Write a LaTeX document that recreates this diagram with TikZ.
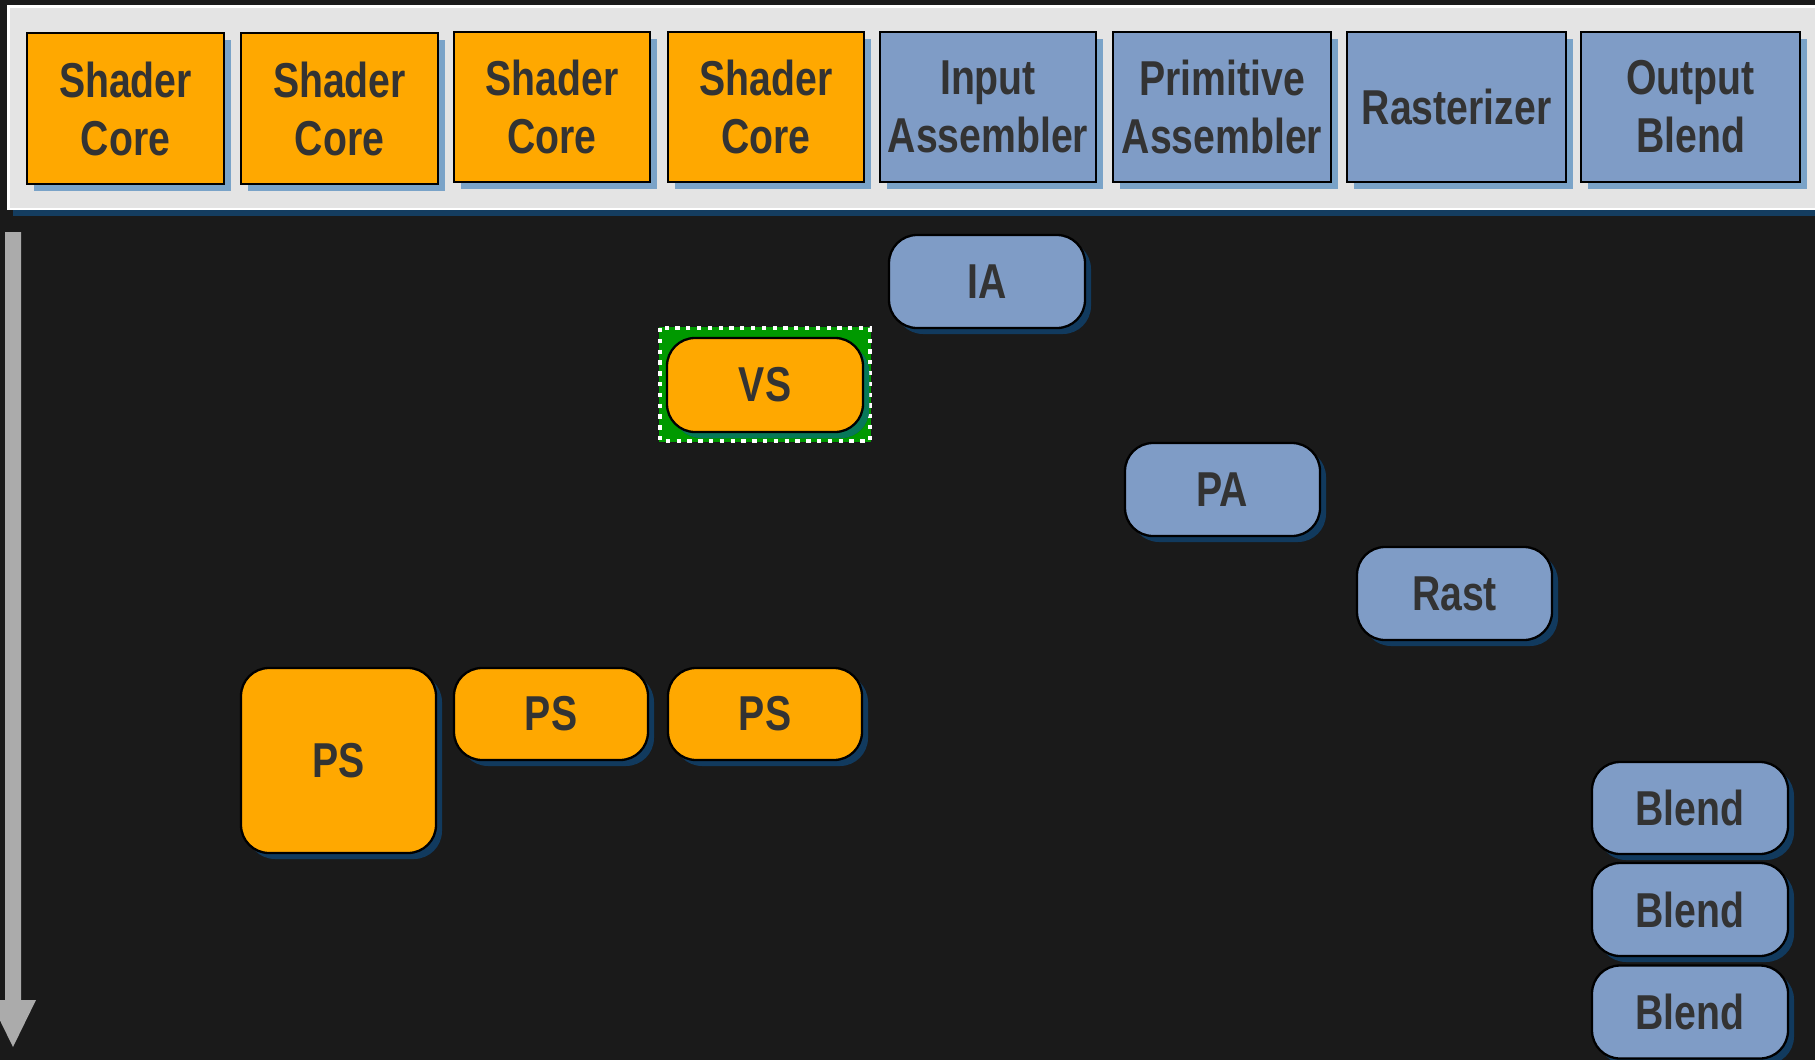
\documentclass[tikz,border=0pt]{standalone}
\usepackage{fontspec}
\setmainfont{Liberation Sans}[FakeStretch=0.8]
\usetikzlibrary{shadows}
\definecolor{bgdark}{HTML}{1A1A1A}
\definecolor{panelgray}{HTML}{E4E4E4}
\definecolor{panelshade}{HTML}{143D60}
\definecolor{coreorange}{HTML}{FFA800}
\definecolor{stageblue}{HTML}{7F9CC6}
\definecolor{lightshade}{HTML}{7AA3C8}
\definecolor{darkshade}{HTML}{113A5E}
\definecolor{labelgray}{HTML}{333333}
\definecolor{activegreen}{HTML}{009900}
\definecolor{greenshade}{HTML}{077858}
\definecolor{timegray}{HTML}{ABABAB}
\tikzset{
  lbl/.style={font=\bfseries\fontsize{49}{58}\selectfont, text=labelgray, align=center, inner sep=0pt},
  unitbox/.style={lbl, draw=black, line width=2pt, rectangle,
    drop shadow={shadow xshift=7pt, shadow yshift=-7pt, fill=lightshade, opacity=1}},
  corebox/.style={unitbox, fill=coreorange},
  stagebox/.style={unitbox, fill=stageblue},
  taskbox/.style={lbl, draw=black, line width=2.3pt, rounded corners=28pt,
    drop shadow={shadow xshift=6pt, shadow yshift=-6pt, fill=darkshade, opacity=1}},
  shadertask/.style={taskbox, fill=coreorange},
  fixedtask/.style={taskbox, fill=stageblue},
}
\begin{document}
\begin{tikzpicture}[x=1pt, y=-1pt]
  % canvas
  \useasboundingbox (0,0) rectangle (1815,1060);
  \fill[bgdark] (0,0) rectangle (1815,1060);

  % hardware unit panel
  \fill[panelshade] (13,11) rectangle (1830,216);
  \fill[white] (7,5) rectangle (1830,210);
  \fill[panelgray] (9.5,7.5) rectangle (1830,207.5);

  % hardware units
  \node[corebox, minimum width=197pt, minimum height=151pt] (sc1) at (125.5,108.5) {Shader\\Core};
  \node[corebox, minimum width=197pt, minimum height=151pt] (sc2) at (339.5,108.5) {Shader\\Core};
  \node[corebox, minimum width=196pt, minimum height=150pt] (sc3) at (552,107) {Shader\\Core};
  \node[corebox, minimum width=196pt, minimum height=150pt] (sc4) at (766,107) {Shader\\Core};
  \node[stagebox, minimum width=216pt, minimum height=150pt] (ia) at (988,107) {Input\\Assembler};
  \node[stagebox, minimum width=218pt, minimum height=150pt] (pa) at (1222,107) {Primitive\\Assembler};
  \node[stagebox, minimum width=219pt, minimum height=150pt] (rast) at (1456.5,107) {Rasterizer};
  \node[stagebox, minimum width=219pt, minimum height=150pt] (ob) at (1690.5,107) {Output\\Blend};

  % time axis
  \fill[timegray] (5,232) -- (21,232) -- (21,1000) -- (36,1000) -- (13,1047) -- (-10,1000) -- (5,1000) -- cycle;

  % active vertex shader highlight
  \fill[activegreen] (659,327) rectangle (871,442);
  \draw[white, line width=4.3pt, dash pattern=on 4.3pt off 6.5pt] (660,328) rectangle (870,441);

  % scheduled work
  \node[fixedtask, minimum width=196pt, minimum height=93pt] (tIA) at (987,281.5) {IA};
  \node[shadertask, minimum width=196pt, minimum height=94pt,
    drop shadow={shadow xshift=6pt, shadow yshift=-6pt, fill=greenshade, opacity=1}] (tVS) at (765,385) {VS};
  \node[fixedtask, minimum width=195pt, minimum height=93pt] (tPA) at (1222.5,489.5) {PA};
  \node[fixedtask, minimum width=195pt, minimum height=93pt] (tRast) at (1454.5,593.5) {Rast};
  \node[shadertask, minimum width=195pt, minimum height=185pt] (tPS1) at (338.5,760.5) {PS};
  \node[shadertask, minimum width=194pt, minimum height=92pt] (tPS2) at (551,714) {PS};
  \node[shadertask, minimum width=194pt, minimum height=92pt] (tPS3) at (765,714) {PS};
  \node[fixedtask, minimum width=196pt, minimum height=92pt] (tB1) at (1690,808) {Blend};
  \node[fixedtask, minimum width=196pt, minimum height=93pt] (tB2) at (1690,909.5) {Blend};
  \node[fixedtask, minimum width=196pt, minimum height=93pt] (tB3) at (1690,1012) {Blend};
\end{tikzpicture}
\end{document}
